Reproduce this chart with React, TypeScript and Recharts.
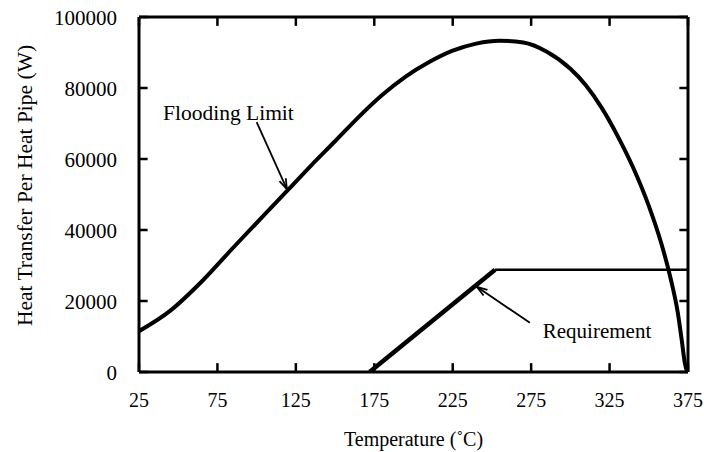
import { LineChart, Line, XAxis, YAxis, ReferenceLine, ReferenceDot } from "recharts";

// temperature (°C) ticks and heat transfer (W) ticks
const tempTicks = [25, 75, 125, 175, 225, 275, 325, 375];
const heatTicks = [0, 20000, 40000, 60000, 80000, 100000];

// flooding limit curve
const floodTemp = [25, 45, 65, 85, 105, 120, 135, 150, 165, 180, 195, 210, 225, 240, 255, 270, 285, 300, 310, 320, 330, 340, 350, 358, 364, 368.5, 371, 373, 374.5];
const floodHeat = [11500, 17300, 25500, 35000, 44300, 51300, 58300, 65000, 71800, 78000, 83200, 87300, 90500, 92500, 93300, 92800, 90200, 85400, 80700, 74400, 66600, 57600, 46800, 36200, 26200, 16700, 9000, 2500, 0];

// requirement: ramp then flat
const rampTemp = [172, 252];
const rampHeat = [0, 28800];
const flatTemp = [252, 375];
const flatHeat = [28800, 28800];

const floodData = floodTemp.map((t, i) => ({ t, q: floodHeat[i] }));
const rampData = rampTemp.map((t, i) => ({ t, q: rampHeat[i] }));
const flatData = flatTemp.map((t, i) => ({ t, q: flatHeat[i] }));

const ink = "#000";
const font = "'Liberation Serif', 'Times New Roman', serif";

// inward tick length in data units (about 8-9px)
const tickDT = 5.5;
const tickDQ = 2500;

function Arrow(props: any) {
  const { x1, y1, x2, y2 } = props;
  const ang = Math.atan2(y2 - y1, x2 - x1);
  const len = 11;
  const spread = 0.32;
  const ax = x2 - len * Math.cos(ang - spread);
  const ay = y2 - len * Math.sin(ang - spread);
  const bx = x2 - len * Math.cos(ang + spread);
  const by = y2 - len * Math.sin(ang + spread);
  return (
    <g>
      <line x1={x1} y1={y1} x2={x2} y2={y2} stroke={ink} strokeWidth={1.8} />
      <path d={`M${ax},${ay} L${x2},${y2} L${bx},${by}`} fill="none" stroke={ink} strokeWidth={1.8} />
    </g>
  );
}

function TickMark(props: any) {
  const { x1, y1, x2, y2 } = props;
  return <path d={`M${x1},${y1} L${x2},${y2}`} stroke={ink} strokeWidth={2.5} fill="none" />;
}

function BottomTick({ x, y, payload }: any) {
  return (
    <text x={x} y={y + 35} textAnchor="middle" fill={ink} fontSize={20} fontFamily={font}>
      {payload.value}
    </text>
  );
}

function LeftTick({ x, y, payload }: any) {
  return (
    <text x={x - 22} y={y} dy="0.36em" textAnchor="end" fill={ink} fontSize={21} fontFamily={font}>
      {payload.value}
    </text>
  );
}

export default function App() {
  return (
    <div style={{ position: "absolute", left: 0, top: 0, background: "#fff", fontFamily: font }}>
      <LineChart width={704} height={452} margin={{ top: 16, right: 15, left: 0, bottom: 0 }}>
        <XAxis
          dataKey="t"
          type="number"
          domain={[25, 375]}
          ticks={tempTicks}
          allowDataOverflow
          interval={0}
          height={80}
          tickSize={0}
          tickMargin={0}
          axisLine={{ stroke: ink, strokeWidth: 3 }}
          tickLine={false}
          tick={<BottomTick />}
          label={{
            value: "Temperature (˚C)",
            position: "insideBottom",
            offset: 6,
            fill: ink,
            fontSize: 20,
            fontFamily: font,
          }}
        />
        <XAxis
          xAxisId="top"
          dataKey="t"
          type="number"
          orientation="top"
          domain={[25, 375]}
          ticks={tempTicks}
          allowDataOverflow
          height={1}
          tick={false}
          tickLine={false}
          axisLine={{ stroke: ink, strokeWidth: 3 }}
        />
        <YAxis
          type="number"
          domain={[0, 100000]}
          ticks={heatTicks}
          allowDataOverflow
          interval={0}
          width={139}
          tickSize={0}
          tickMargin={0}
          axisLine={{ stroke: ink, strokeWidth: 3 }}
          tickLine={false}
          tick={<LeftTick />}
          label={{
            content: (p: any) => {
              const vb = p.viewBox;
              const cx = vb.x + 32;
              const cy = vb.y + vb.height / 2 - 9;
              return (
                <text
                  x={cx}
                  y={cy}
                  transform={`rotate(-90 ${cx} ${cy})`}
                  textAnchor="middle"
                  fill={ink}
                  fontSize={21.5}
                  fontFamily={font}
                >
                  Heat Transfer Per Heat Pipe (W)
                </text>
              );
            },
          }}
        />
        <YAxis
          yAxisId="right"
          type="number"
          orientation="right"
          domain={[0, 100000]}
          ticks={heatTicks}
          allowDataOverflow
          width={1}
          tick={false}
          tickLine={false}
          axisLine={{ stroke: ink, strokeWidth: 3 }}
        />
        {tempTicks.map((t) => (
          <ReferenceLine key={`b${t}`} segment={[{ x: t, y: 0 }, { x: t, y: tickDQ }]} shape={TickMark} />
        ))}
        {tempTicks.map((t) => (
          <ReferenceLine key={`t${t}`} segment={[{ x: t, y: 100000 }, { x: t, y: 100000 - tickDQ }]} shape={TickMark} />
        ))}
        {heatTicks.map((q) => (
          <ReferenceLine key={`l${q}`} segment={[{ x: 25, y: q }, { x: 25 + tickDT, y: q }]} shape={TickMark} />
        ))}
        {heatTicks.map((q) => (
          <ReferenceLine key={`r${q}`} segment={[{ x: 375, y: q }, { x: 375 - tickDT, y: q }]} shape={TickMark} />
        ))}
        <Line data={floodData} dataKey="q" type="monotone" stroke={ink} strokeWidth={4} dot={false} isAnimationActive={false} />
        <Line data={rampData} dataKey="q" type="linear" stroke={ink} strokeWidth={4.5} dot={false} isAnimationActive={false} />
        <Line data={flatData} dataKey="q" type="linear" stroke={ink} strokeWidth={2.5} dot={false} isAnimationActive={false} />
        <ReferenceLine segment={[{ x: 100, y: 70400 }, { x: 119.3, y: 51500 }]} shape={Arrow} />
        <ReferenceLine segment={[{ x: 274.2, y: 13850 }, { x: 240.4, y: 24000 }]} shape={Arrow} />
        <ReferenceDot
          x={82}
          y={73200}
          r={0}
          fill="none"
          stroke="none"
          label={{ value: "Flooding Limit", position: "center", fill: ink, fontSize: 21.5, fontFamily: font }}
        />
        <ReferenceDot
          x={317}
          y={11600}
          r={0}
          fill="none"
          stroke="none"
          label={{ value: "Requirement", position: "center", fill: ink, fontSize: 21, fontFamily: font }}
        />
      </LineChart>
    </div>
  );
}
